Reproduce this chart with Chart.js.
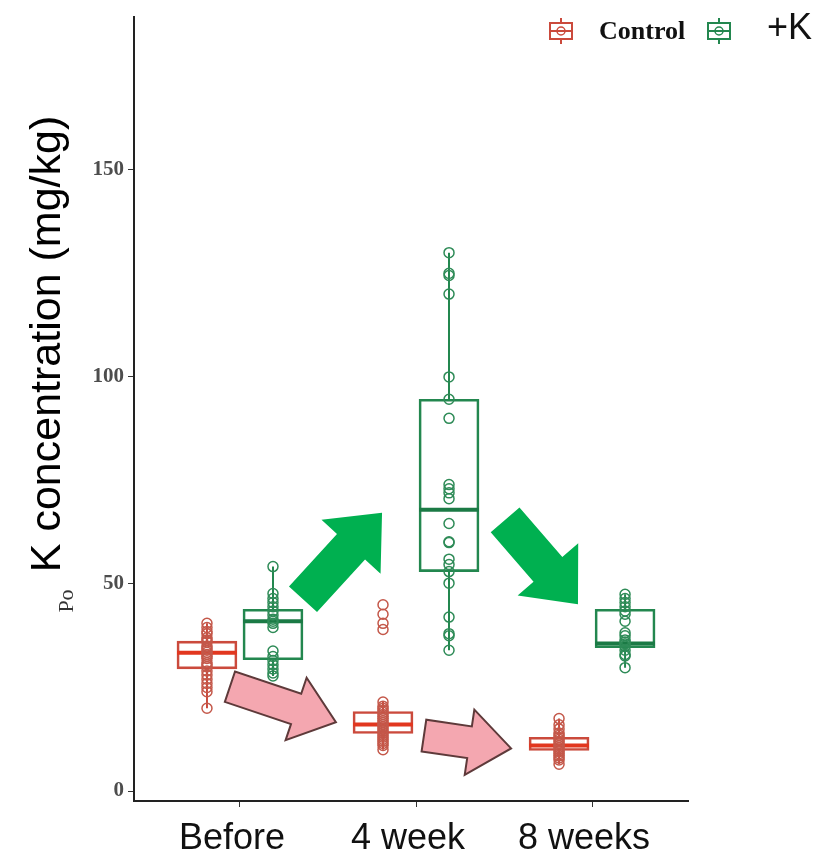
<!DOCTYPE html>
<html lang="en">
<head>
  <meta charset="UTF-8" />
  <title>K concentration boxplot</title>
  <script src="https://cdn.jsdelivr.net/npm/chart.js"></script>
  <style>
    html, body { margin: 0; background: #fff; }
    #wrap { width: 828px; height: 859px; }
  </style>
</head>
<body>
<div id="wrap"><canvas id="chart" width="828" height="859"></canvas></div>
<script>
  // categories and tick labels
  const groups = ['Before', '4 week', '8 weeks'];
  const yTicks = [0, 50, 100, 150];
  const seriesNames = ['Control', '+K'];

  // raw points
  const controlVals = [
    [40.5, 39.5, 38.5, 38, 37, 36.5, 36, 35, 34.5, 34, 33.5, 33, 32.5, 32, 31, 30.5, 30, 29, 28, 27, 26, 25, 24, 20],
    [45, 42.7, 40.5, 39, 21.5, 20.5, 20, 19.5, 19, 18.5, 18, 17.5, 17, 16.5, 16, 15.5, 15, 14.5, 14, 13.5, 13, 12.5, 12, 11.5, 11, 10],
    [17.5, 16, 15, 14, 13.5, 13, 12.5, 12, 11.5, 11, 10.5, 10, 9.5, 9, 8.5, 8, 7.5, 6.5]
  ];
  const kVals = [
    [54.2, 47.7, 46.5, 45.5, 44.5, 43.5, 42.5, 41.5, 41, 40.5, 39.5, 33.8, 32.5, 31.5, 30.5, 29.5, 28.5, 27.8],
    [130, 125, 124.5, 120, 100, 94.6, 90, 74, 73, 72, 70.6, 64.6, 60.2, 60, 56, 54.7, 53, 50.2, 42, 38, 37.5, 34],
    [47.5, 46.5, 45.5, 44.5, 43.5, 42.7, 41, 38.2, 37.5, 36.5, 36, 35.5, 35, 34, 33, 32.6, 29.8]
  ];

  // box statistics
  const controlLo  = [20, 10, 6.5];
  const controlQ1  = [29.5, 13.9, 9.8];
  const controlMed = [33.4, 16.1, 11.0];
  const controlQ3  = [36.2, 19.2, 13.0];
  const controlHi  = [40.5, 21.5, 17.5];
  const kLo  = [27.8, 34, 29.8];
  const kQ1  = [31.7, 53.0, 34.6];
  const kMed = [41.0, 67.9, 35.6];
  const kQ3  = [43.9, 94.6, 43.9];
  const kHi  = [54.2, 130, 47.5];

  // arrows: [tailX, tailY, tipX, tipY] in data units
  const greenArrows = [[1.358, 46.3, 1.807, 67.2], [2.506, 65.5, 2.920, 45.1]];
  const pinkArrows = [[0.943, 25.2, 1.545, 16.6], [2.045, 13.4, 2.540, 10.3]];

  const RED = '#cb4a3c', RED_MED = '#e2371f', RED_PT = '#c4584a';
  const GREEN = '#23874f', GREEN_MED = '#1b7a45', GREEN_PT = '#2e8b57';
  const dodge = 0.1875, halfBox = 0.17;

  const xOf = (g, s) => (g + 1) + (s === 0 ? -dodge : dodge);

  function pointsData(vals, s) {
    const out = [];
    vals.forEach((arr, g) => arr.forEach(v => out.push({ x: xOf(g, s), y: v })));
    return out;
  }
  function boxData(q1, q3, s) {
    return groups.map((_, g) => ({ x: xOf(g, s), y: [q1[g], q3[g]] }));
  }
  function whiskerData(lo, q1, q3, hi, s) {
    const out = [];
    groups.forEach((_, g) => {
      const x = xOf(g, s);
      out.push({ x, y: lo[g] }, { x, y: q1[g] }, { x, y: null });
      out.push({ x, y: q3[g] }, { x, y: hi[g] }, { x, y: null });
    });
    return out;
  }
  function medianData(med, s) {
    const out = [];
    groups.forEach((_, g) => {
      const x = xOf(g, s);
      out.push({ x: x - halfBox, y: med[g] }, { x: x + halfBox, y: med[g] }, { x, y: null });
    });
    return out;
  }

  const boxDs = (data, color) => ({
    type: 'bar', data, grouped: false, barThickness: 60,
    backgroundColor: 'rgba(255,255,255,0)', borderColor: color, borderWidth: 2,
    borderSkipped: false, order: 3
  });
  const lineDs = (data, color, w, order) => ({
    type: 'line', data, borderColor: color, borderWidth: w, pointRadius: 0,
    spanGaps: false, fill: false, order
  });
  const ptDs = (data, color) => ({
    type: 'scatter', data, pointRadius: 5, borderWidth: 1.5,
    borderColor: color, backgroundColor: 'rgba(255,255,255,0)', order: 0
  });

  function arrow(ctx, x0, y0, x1, y1, shaftW, headW, headL) {
    const len = Math.hypot(x1 - x0, y1 - y0);
    const ux = (x1 - x0) / len, uy = (y1 - y0) / len;
    const nx = -uy, ny = ux;
    const bx = x1 - ux * headL, by = y1 - uy * headL;
    ctx.beginPath();
    ctx.moveTo(x0 + nx * shaftW / 2, y0 + ny * shaftW / 2);
    ctx.lineTo(bx + nx * shaftW / 2, by + ny * shaftW / 2);
    ctx.lineTo(bx + nx * headW / 2, by + ny * headW / 2);
    ctx.lineTo(x1, y1);
    ctx.lineTo(bx - nx * headW / 2, by - ny * headW / 2);
    ctx.lineTo(bx - nx * shaftW / 2, by - ny * shaftW / 2);
    ctx.lineTo(x0 - nx * shaftW / 2, y0 - ny * shaftW / 2);
    ctx.closePath();
  }

  function legendIcon(ctx, cx, cy, color) {
    ctx.strokeStyle = color; ctx.lineWidth = 2;
    ctx.strokeRect(cx - 11, cy - 8, 22, 16);
    ctx.beginPath();
    ctx.moveTo(cx, cy - 13); ctx.lineTo(cx, cy - 8);
    ctx.moveTo(cx, cy + 8); ctx.lineTo(cx, cy + 13);
    ctx.moveTo(cx - 11, cy); ctx.lineTo(cx + 11, cy);
    ctx.stroke();
    ctx.lineWidth = 1.5;
    ctx.beginPath(); ctx.arc(cx, cy, 4, 0, Math.PI * 2); ctx.stroke();
  }

  const decor = {
    id: 'decor',
    afterDatasetsDraw(chart) {
      const ctx = chart.ctx, xs = chart.scales.x, ys = chart.scales.y;
      ctx.save();
      greenArrows.forEach(a => {
        arrow(ctx, xs.getPixelForValue(a[0]), ys.getPixelForValue(a[1]),
          xs.getPixelForValue(a[2]), ys.getPixelForValue(a[3]), 38, 80, 46);
        ctx.fillStyle = '#00b050'; ctx.fill();
      });
      pinkArrows.forEach(a => {
        arrow(ctx, xs.getPixelForValue(a[0]), ys.getPixelForValue(a[1]),
          xs.getPixelForValue(a[2]), ys.getPixelForValue(a[3]), 32, 66, 42);
        ctx.fillStyle = '#f4a7b0'; ctx.fill();
        ctx.strokeStyle = '#5e3a3a'; ctx.lineWidth = 2; ctx.lineJoin = 'miter'; ctx.stroke();
      });
      ctx.restore();
    },
    afterDraw(chart) {
      const ctx = chart.ctx;
      ctx.save();
      // y title
      ctx.translate(60, 344);
      ctx.rotate(-Math.PI / 2);
      ctx.fillStyle = '#000';
      ctx.font = '43px "Liberation Sans", Arial, sans-serif';
      ctx.textAlign = 'center';
      ctx.textBaseline = 'alphabetic';
      ctx.fillText('K concentration (mg/kg)', 0, 0);
      ctx.restore();

      ctx.save();
      ctx.translate(73, 601);
      ctx.rotate(-Math.PI / 2);
      ctx.fillStyle = '#333';
      ctx.font = '22px "Liberation Serif", serif';
      ctx.textAlign = 'center';
      ctx.fillText('Po', 0, 0);
      ctx.restore();

      // legend
      ctx.save();
      legendIcon(ctx, 561, 31, RED);
      legendIcon(ctx, 719, 31, GREEN);
      ctx.fillStyle = '#111';
      ctx.textBaseline = 'middle';
      ctx.font = 'bold 26px "Liberation Serif", serif';
      ctx.fillText(seriesNames[0], 599, 32);
      ctx.font = '36px "Liberation Sans", Arial, sans-serif';
      ctx.fillText(seriesNames[1], 767, 29);
      ctx.restore();
    }
  };

  new Chart(document.getElementById('chart'), {
    type: 'scatter',
    data: {
      datasets: [
        ptDs(pointsData(controlVals, 0), RED_PT),
        ptDs(pointsData(kVals, 1), GREEN_PT),
        lineDs(medianData(controlMed, 0), RED_MED, 4, 1),
        lineDs(medianData(kMed, 1), GREEN_MED, 4, 1),
        boxDs(boxData(controlQ1, controlQ3, 0), RED),
        boxDs(boxData(kQ1, kQ3, 1), GREEN),
        lineDs(whiskerData(controlLo, controlQ1, controlQ3, controlHi, 0), RED, 2, 2),
        lineDs(whiskerData(kLo, kQ1, kQ3, kHi, 1), GREEN, 2, 2)
      ]
    },
    options: {
      responsive: false,
      animation: false,
      layout: { padding: { top: 10, right: 140, left: 0, bottom: 0 } },
      plugins: { legend: { display: false }, tooltip: { enabled: false } },
      scales: {
        x: {
          type: 'linear', min: 0.398, max: 3.545, offset: false,
          afterFit: s => { s.height = 58; },
          afterBuildTicks: s => { s.ticks = groups.map((_, i) => ({ value: i + 1 })); },
          grid: { offset: false, drawOnChartArea: false, drawTicks: true, tickLength: 6, tickColor: '#333' },
          border: { display: true, color: '#222', width: 2 },
          ticks: {
            callback: v => groups[v - 1],
            color: '#111', padding: 10, labelOffset: -8,
            font: { family: '"Liberation Sans", Arial, sans-serif', size: 36 }
          }
        },
        y: {
          type: 'linear', min: -2.4, max: 187,
          afterFit: s => { s.width = 134; },
          afterBuildTicks: s => { s.ticks = yTicks.map(v => ({ value: v })); },
          grid: { drawOnChartArea: false, drawTicks: true, tickLength: 6, tickColor: '#333' },
          border: { display: true, color: '#222', width: 2 },
          ticks: {
            color: '#4d4d4d', padding: 4,
            font: { family: '"Liberation Serif", serif', size: 21, weight: 'bold' }
          }
        }
      }
    },
    plugins: [decor]
  });
</script>
</body>
</html>
